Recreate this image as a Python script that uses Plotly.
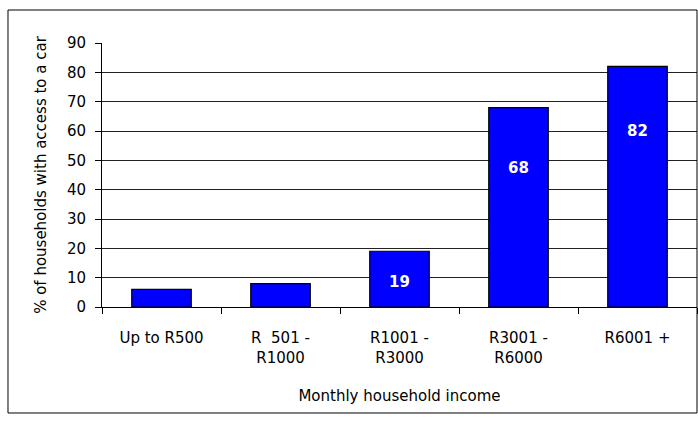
import plotly.graph_objects as go

categories = ["Up to R500", "R  501 -<br>R1000", "R1001 -<br>R3000", "R3001 -<br>R6000", "R6001 +"]
values = [6, 8, 19, 68, 82]
bar_labels = ["", "", "19", "68", "82"]
label_shift_px = [0, 0, -31, -60, -65]
y_ticks = [0, 10, 20, 30, 40, 50, 60, 70, 80, 90]

FONT = "DejaVu Sans"

fig = go.Figure()
fig.add_trace(go.Bar(
    x=categories, y=values,
    marker=dict(color="#0000FF", line=dict(color="black", width=1.2)),
    hoverinfo="skip",
))

for cat, val, lab, sh in zip(categories, values, bar_labels, label_shift_px):
    if lab:
        fig.add_annotation(x=cat, y=val, text=lab, showarrow=False, yshift=sh,
                           font=dict(family=FONT, size=15, color="white", weight="bold"))

fig.update_layout(
    width=698, height=424,
    margin=dict(l=102, r=1, t=43, b=117),
    paper_bgcolor="white", plot_bgcolor="white",
    bargap=0.5, showlegend=False,
    font=dict(family=FONT, size=15, color="black"),
    shapes=[dict(type="rect", xref="paper", yref="paper",
                 x0=-0.158, x1=1.0, y0=-0.4015, y1=1.125,
                 line=dict(color="black", width=1), fillcolor="rgba(0,0,0,0)")],
)
fig.update_yaxes(
    range=[0, 90], tickvals=y_ticks, showgrid=True, gridcolor="#222", gridwidth=1,
    showline=True, linecolor="black", linewidth=1, ticks="outside", ticklen=6,
    tickcolor="black", ticklabelstandoff=6, zeroline=False,
    tickfont=dict(family=FONT, size=15),
    title=dict(text="% of households with access to a car", font=dict(family=FONT, size=15), standoff=16),
)
fig.update_xaxes(
    showline=True, linecolor="black", linewidth=1, ticks="outside", ticklen=6,
    tickcolor="black", tickson="boundaries", ticklabelstandoff=17,
    tickfont=dict(family=FONT, size=15),
    title=dict(text="Monthly household income", font=dict(family=FONT, size=15), standoff=24),
)
fig.write_html(
    "out.html",
    config={"displayModeBar": False},
    post_script="document.body.style.margin='0';document.body.style.overflow='hidden';",
)
